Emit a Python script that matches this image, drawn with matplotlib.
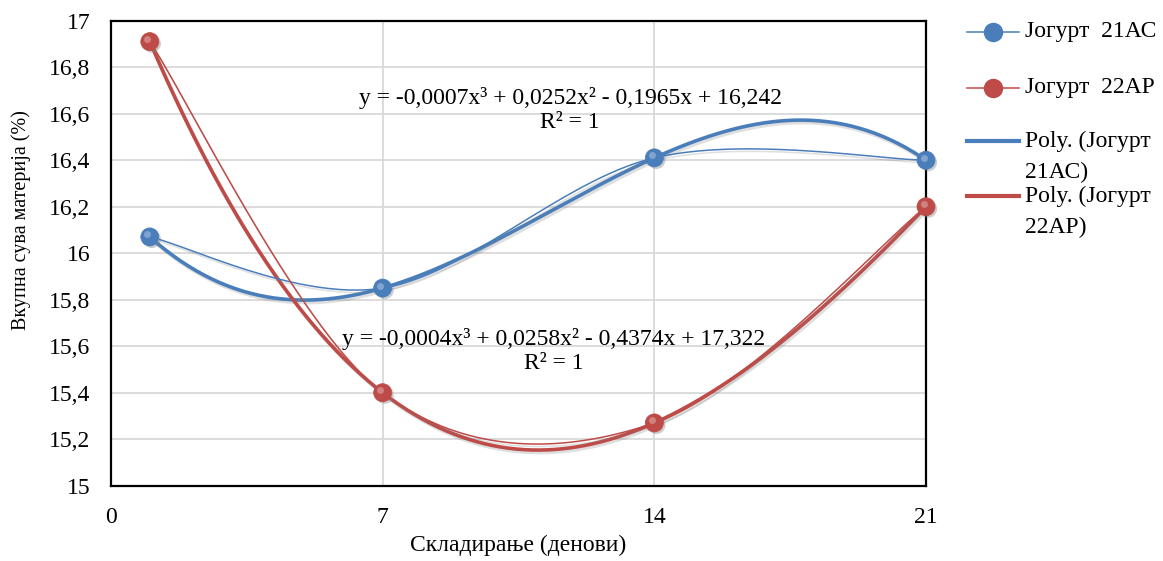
import numpy as np
import matplotlib.pyplot as plt
from matplotlib.lines import Line2D
import matplotlib.patheffects as pe
import matplotlib.transforms as mtransforms

plt.rcParams['font.family'] = ['Liberation Serif', 'DejaVu Serif']

# ---- data ----
days = [1, 7, 14, 21]
y_21ac = [16.07, 15.85, 16.41, 16.40]
y_22ap = [16.91, 15.40, 15.27, 16.20]
names = ['Јогурт  21АС', 'Јогурт  22АР']
poly_names = ['Poly. (Јогурт\n21АС)', 'Poly. (Јогурт\n22АР)']
eq_21ac = 'y = -0,0007x³ + 0,0252x² - 0,1965x + 16,242\nR² = 1'
eq_22ap = 'y = -0,0004x³ + 0,0258x² - 0,4374x + 17,322\nR² = 1'
yticks = [15, 15.2, 15.4, 15.6, 15.8, 16, 16.2, 16.4, 16.6, 16.8, 17]
xticks = [0, 7, 14, 21]

blue = '#4A7EBB'
red = '#BE4B48'
W, H = 1163, 561


def smooth(xs, ys, n=40):
    # Excel-like smoothed line (Catmull-Rom as cubic Bezier)
    p = np.column_stack([xs, ys]).astype(float)
    p = np.vstack([p[0], p, p[-1]])
    out = []
    t = np.linspace(0, 1, n)[:, None]
    for i in range(1, len(p) - 2):
        b0 = p[i]
        b1 = p[i] + (p[i + 1] - p[i - 1]) / 6
        b2 = p[i + 1] - (p[i + 2] - p[i]) / 6
        b3 = p[i + 1]
        seg = ((1 - t) ** 3) * b0 + 3 * ((1 - t) ** 2) * t * b1 + 3 * (1 - t) * t ** 2 * b2 + t ** 3 * b3
        out.append(seg)
    out = np.vstack(out)
    return out[:, 0], out[:, 1]


shadow = [pe.SimpleLineShadow(offset=(1.2, -1.8), shadow_color='gray', alpha=0.25), pe.Normal()]
dot_shadow = [pe.SimplePatchShadow(offset=(1.5, -1.5), shadow_rgbFace='gray', alpha=0.4), pe.Normal()]

fig = plt.figure(figsize=(W / 100, H / 100), dpi=100)
ax = fig.add_axes([111 / W, 1 - 485.7 / H, 815 / W, 465 / H])
shine = mtransforms.offset_copy(ax.transData, fig=fig, x=-1.8, y=1.8, units='points')

xx = np.linspace(days[0], days[-1], 300)
for ys, c in [(y_21ac, blue), (y_22ap, red)]:
    coef = np.polyfit(days, ys, 3)
    ax.plot(xx, np.polyval(coef, xx), color=c, lw=2.6, zorder=3, solid_capstyle='round',
            path_effects=shadow)
    sx, sy = smooth(days, ys)
    ax.plot(sx, sy, color=c, lw=1.1, zorder=4, path_effects=shadow)
    ax.plot(days, ys, ls='none', marker='o', ms=13, mfc=c, mec=c, mew=0.5, zorder=5, clip_on=False,
            path_effects=dot_shadow)
    ax.plot(days, ys, ls='none', marker='o', ms=5, mfc='white', mec='none', alpha=0.3, zorder=6,
            clip_on=False, transform=shine)

ax.set_xlim(0, 21)
ax.set_ylim(15, 17)
ax.set_xticks(xticks)
ax.set_yticks(yticks)
ax.set_yticklabels([('%g' % v).replace('.', ',') for v in yticks])
ax.tick_params(length=0, labelsize=17)
ax.tick_params(axis='y', pad=15)
ax.tick_params(axis='x', pad=15)
ax.grid(True, color='#d9d9d9', lw=1.3)
ax.set_axisbelow(True)
for s in ax.spines.values():
    s.set_linewidth(1.6)
    s.set_color('black')

ax.set_xlabel('Складирање (денови)', fontsize=17, va='center')
ax.xaxis.set_label_coords(0.5, -0.1275)
ax.set_ylabel('Вкупна сува материја (%)', fontsize=14.5, va='center')
ax.yaxis.set_label_coords(-0.110, 0.571)

ax.text(11.83, 16.616, eq_21ac, ha='center', va='center', fontsize=17, linespacing=1.15)
ax.text(11.41, 15.579, eq_22ap, ha='center', va='center', fontsize=17, linespacing=1.15)

# legend drawn by hand: handle aligned with the first text line
rows = [(32, blue, True, names[0]), (88, red, True, names[1]),
        (141, blue, False, poly_names[0]), (196, red, False, poly_names[1])]
for py, c, mk, lab in rows:
    fy = 1 - py / H
    if mk:
        fig.add_artist(Line2D([967 / W, 1019 / W], [fy, fy], color=c, lw=1.1))
        fig.add_artist(Line2D([993 / W], [fy], ls='none', marker='o', ms=13, mfc=c, mec=c))
    else:
        fig.add_artist(Line2D([967 / W, 1019 / W], [fy, fy], color=c, lw=3))
    fig.text(1025 / W, fy, lab.split('\n')[0], ha='left', va='center', fontsize=17)
    if '\n' in lab:
        fig.text(1025 / W, 1 - (py + 31) / H, lab.split('\n')[1], ha='left', va='center', fontsize=17)

fig.savefig('out.png', dpi=100)
